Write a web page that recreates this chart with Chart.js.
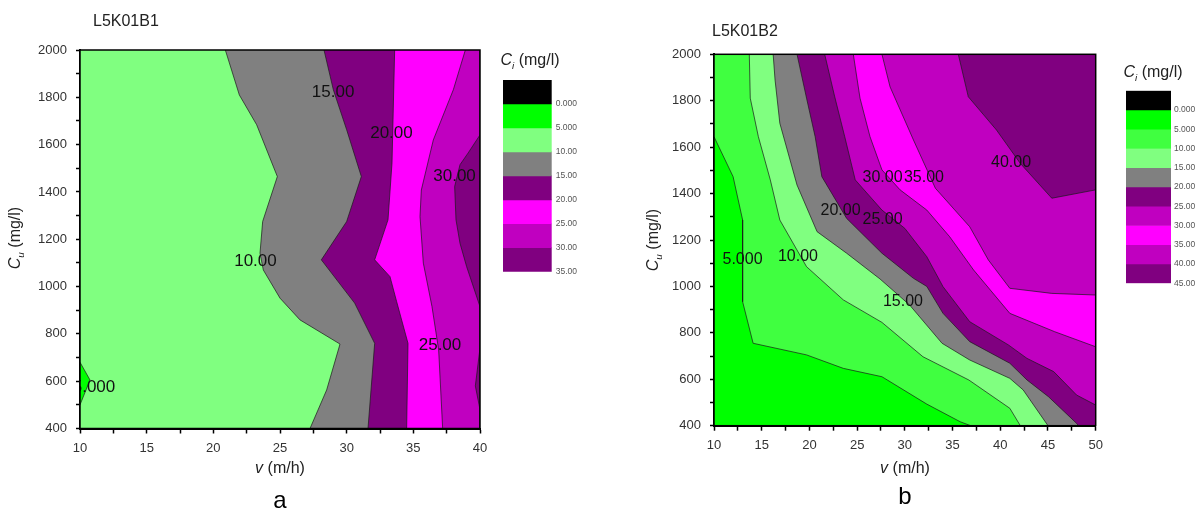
<!DOCTYPE html>
<html>
<head>
<meta charset="utf-8">
<script src="https://cdn.jsdelivr.net/npm/chart.js@4.4.0/dist/chart.umd.min.js"></script>
<style>
html, body { margin: 0; padding: 0; background: #fff; }
#wrap { position: relative; width: 1198px; height: 512px; overflow: hidden; }
canvas { position: absolute; top: 0; }
</style>
</head>
<body>
<div id="wrap">
  <canvas id="plotA" width="600" height="512" style="left:0"></canvas>
  <canvas id="barA" width="110" height="512" style="left:490px"></canvas>
  <canvas id="plotB" width="598" height="512" style="left:600px"></canvas>
  <canvas id="barB" width="88" height="512" style="left:1110px"></canvas>
</div>
<script>
// ---- panel a: L5K01B1 ----
const vRangeA = [10, 40];
const cuRange = [400, 2000];
const levelsA = [-5, 0, 5, 10, 15, 20, 25, 30, 35];
const bandColorsA = ['#000000', '#00ff00', '#80ff80', '#808080', '#800080', '#ff00ff', '#c000c0', '#800080'];
// contour lines, points are [v (m/h), Cu (mg/l)]
const a_c5 = [[10, 680], [10.75, 605], [10, 500]];
const a_c10 = [[20.9, 2000], [21.95, 1810], [23.25, 1684], [24.8, 1465], [23.7, 1275], [23.5, 1141], [23.75, 1070], [25.0, 951], [26.5, 859], [29.5, 757], [28.5, 563], [27.25, 400]];
const a_c15 = [[28.3, 2000], [29.0, 1832], [30.0, 1663], [31.1, 1465], [30.0, 1275], [28.1, 1113], [30.6, 930], [32.1, 760], [31.6, 400]];
const a_c20 = [[33.6, 2000], [33.4, 1522], [33.1, 1282], [32.1, 1113], [33.25, 1042], [33.75, 936], [34.6, 760], [34.5, 400]];
const a_c25 = [[38.9, 2000], [38.0, 1832], [36.5, 1620], [35.6, 1408], [35.5, 1296], [35.75, 1099], [36.4, 915], [36.9, 732], [37.2, 400]];
const a_c30 = [[40, 1641], [39.1, 1564], [38.5, 1515], [38.1, 1423], [38.2, 1282], [38.5, 1183], [39.0, 1084], [40, 915]];
const a_c30b = [[40, 740], [39.65, 580], [40, 480]];
const a_labelText = ['5.000', '10.00', '15.00', '20.00', '25.00', '30.00'];
const a_labelAt = [[11.05, 573], [23.16, 1106], [28.98, 1820], [33.36, 1646], [37.0, 753], [38.09, 1465]];

// ---- panel b: L5K01B2 ----
const vRangeB = [10, 50];
const levelsB = [-5, 0, 5, 10, 15, 20, 25, 30, 35, 40, 45];
const bandColorsB = ['#000000', '#00ff00', '#40ff40', '#80ff80', '#808080', '#800080', '#c000c0', '#ff00ff', '#c000c0', '#800080'];
const b_c5 = [[10, 1645], [12.0, 1473], [13.0, 1286], [13.0, 934], [14.1, 755], [19.7, 705], [23.55, 647], [27.6, 611], [32.3, 493], [35.8, 417], [36.9, 400]];
const b_c10 = [[13.7, 2000], [13.8, 1811], [14.65, 1645], [15.9, 1459], [16.9, 1286], [19.7, 1085], [23.55, 942], [27.6, 845], [31.9, 697], [36.7, 597], [41.0, 475], [42.1, 400]];
const b_c15 = [[16.2, 2000], [16.4, 1889], [16.9, 1703], [18.7, 1437], [20.8, 1236], [23.9, 1143], [27.4, 1032], [30.5, 920], [33.9, 755], [36.8, 683], [41.0, 604], [42.4, 554], [45.0, 400]];
const b_c20 = [[18.7, 2000], [19.7, 1811], [20.6, 1645], [21.3, 1473], [23.9, 1293], [27.6, 1143], [30.9, 1035], [32.3, 1000], [34.0, 884], [36.8, 762], [41.0, 669], [42.8, 597], [45.05, 525], [48.0, 410], [48.2, 400]];
const b_c25 = [[21.6, 2000], [22.65, 1817], [23.7, 1645], [24.8, 1459], [27.6, 1329], [30.0, 1250], [32.3, 1128], [34.0, 999], [36.8, 848], [40.85, 748], [42.8, 690], [45.6, 633], [48.0, 532], [50, 489]];
const b_c30 = [[24.6, 2000], [25.3, 1811], [26.35, 1645], [27.6, 1502], [29.5, 1416], [32.3, 1329], [34.7, 1214], [37.2, 1071], [41.0, 884], [45.7, 805], [50, 740]];
const b_c35 = [[27.6, 2000], [28.45, 1860], [30.9, 1631], [33.2, 1423], [36.8, 1257], [38.75, 1114], [41.0, 992], [45.4, 970], [50, 963]];
const b_c40 = [[35.6, 2000], [36.65, 1817], [39.6, 1674], [42.1, 1530], [45.4, 1380], [50, 1416]];
const b_labelText = ['5.000', '10.00', '20.00', '25.00', '30.00', '35.00', '15.00', '40.00'];
const b_labelAt = [[12.99, 1114], [18.8, 1128], [23.26, 1326], [27.66, 1286], [27.66, 1470], [32.0, 1470], [29.8, 934], [41.13, 1533]];

Chart.defaults.font.family = "'Liberation Sans', Arial, sans-serif";
Chart.defaults.color = '#333';

const FONT = "'Liberation Sans', Arial, sans-serif";

// one filled contour region (painted bottom to top)
function region(line, closure, color, i, stroke) {
    return {
        data: line.concat(closure).map(p => ({ x: p[0], y: p[1] })),
        backgroundColor: color,
        borderColor: '#1a1a1a',
        borderWidth: stroke ? 0.7 : 0,
        fill: 'shape',
        pointRadius: 0,
        tension: 0,
        order: -i
    };
}

// mixed italic / subscript text
function richText(ctx, parts, x, y, size) {
    let w = 0;
    const m = parts.map(p => {
        const s = p.sub ? size * 0.62 : size;
        const f = (p.it ? 'italic ' : '') + s + 'px ' + FONT;
        ctx.font = f;
        const pw = ctx.measureText(p.t).width;
        w += pw;
        return { f, pw, dy: p.sub ? size * 0.35 : 0 };
    });
    let cx = x - w / 2;
    ctx.textAlign = 'left';
    ctx.textBaseline = 'middle';
    parts.forEach((p, i) => {
        ctx.font = m[i].f;
        ctx.fillText(p.t, cx, y + m[i].dy);
        cx += m[i].pw;
    });
}

function makeDecor(cfg) {
    return {
        id: 'decor',
        afterDatasetsDraw(chart) {
            const ctx = chart.ctx, a = chart.chartArea;
            const xs = chart.scales.x, ys = chart.scales.y;
            ctx.save();
            ctx.beginPath();
            ctx.rect(a.left, a.top, a.right - a.left, a.bottom - a.top);
            ctx.clip();
            ctx.fillStyle = '#111';
            ctx.font = cfg.labelSize + 'px ' + FONT;
            ctx.textAlign = 'center';
            ctx.textBaseline = 'middle';
            cfg.labelText.forEach((t, i) => {
                ctx.fillText(t, xs.getPixelForValue(cfg.labelAt[i][0]), ys.getPixelForValue(cfg.labelAt[i][1]));
            });
            ctx.restore();
            ctx.save();
            ctx.strokeStyle = '#000';
            ctx.lineWidth = 1.5;
            ctx.strokeRect(a.left, a.top, a.right - a.left, a.bottom - a.top);
            ctx.restore();
        },
        afterDraw(chart) {
            const ctx = chart.ctx;
            ctx.save();
            ctx.fillStyle = '#222';
            ctx.font = '16px ' + FONT;
            ctx.textAlign = 'left';
            ctx.textBaseline = 'middle';
            ctx.fillText(cfg.title, cfg.titleX, cfg.titleY);
            richText(ctx, [{ t: 'v', it: true }, { t: ' (m/h)' }], cfg.xTitle[0], cfg.xTitle[1], 16);
            ctx.fillStyle = '#000';
            ctx.font = '24px ' + FONT;
            ctx.textAlign = 'center';
            ctx.fillText(cfg.letter, cfg.letterAt[0], cfg.letterAt[1]);
            ctx.fillStyle = '#222';
            ctx.translate(cfg.yTitle[0], cfg.yTitle[1]);
            ctx.rotate(-Math.PI / 2);
            richText(ctx, [{ t: 'C', it: true }, { t: 'u', it: true, sub: true }, { t: ' (mg/l)' }], 0, 0, 16);
            ctx.restore();
        }
    };
}

function contourChart(id, vRange, datasets, yWidth, pad, decor) {
    return new Chart(document.getElementById(id), {
        type: 'line',
        data: { datasets: datasets },
        options: {
            responsive: false,
            animation: false,
            layout: { padding: pad },
            plugins: { legend: { display: false }, tooltip: { enabled: false } },
            scales: {
                x: {
                    type: 'linear', min: vRange[0], max: vRange[1],
                    ticks: { stepSize: 2.5, autoSkip: false, maxRotation: 0, padding: 7, color: '#333', font: { size: 13 },
                        callback: v => (v % 5 === 0 ? v : '') },
                    grid: { drawOnChartArea: false, tickLength: 5, tickColor: '#000', tickWidth: 1.5 },
                    border: { color: '#000', width: 2 },
                    afterFit: s => { s.height = 40; }
                },
                y: {
                    type: 'linear', min: cuRange[0], max: cuRange[1],
                    ticks: { stepSize: 100, autoSkip: false, padding: 9, color: '#333', font: { size: 13 },
                        callback: v => (v % 200 === 0 ? v : '') },
                    grid: { drawOnChartArea: false, tickLength: 4, tickColor: '#000', tickWidth: 1.5 },
                    border: { color: '#000', width: 2 },
                    afterFit: s => { s.width = yWidth; }
                }
            }
        },
        plugins: [decor]
    });
}

function colorBar(id, levels, colors, yWidth, pad, labelPad, titleAt) {
    return new Chart(document.getElementById(id), {
        type: 'bar',
        data: {
            labels: [''],
            datasets: colors.map((c, i) => ({
                data: [[levels[i], levels[i + 1]]],
                backgroundColor: c,
                borderWidth: 0,
                grouped: false,
                barPercentage: 1,
                categoryPercentage: 1
            }))
        },
        options: {
            responsive: false,
            animation: false,
            layout: { padding: pad },
            plugins: { legend: { display: false }, tooltip: { enabled: false } },
            scales: {
                x: { display: false },
                y: {
                    position: 'right', reverse: true,
                    min: levels[0], max: levels[levels.length - 1],
                    ticks: { stepSize: 5, autoSkip: false, padding: labelPad, color: '#555', font: { size: 8.5 },
                        callback: v => (v < 0 ? '' : v.toPrecision(4)) },
                    grid: { display: false, drawTicks: false },
                    border: { display: false },
                    afterFit: s => { s.width = yWidth; }
                }
            }
        },
        plugins: [{
            id: 'barTitle',
            afterDraw(chart) {
                const ctx = chart.ctx;
                ctx.save();
                ctx.fillStyle = '#222';
                richText(ctx, [{ t: 'C', it: true }, { t: 'i', it: true, sub: true }, { t: ' (mg/l)' }], titleAt[0], titleAt[1], 16);
                ctx.restore();
            }
        }]
    });
}

// panel a regions
const edgeA = [[vRangeA[1], cuRange[0]], [vRangeA[1], cuRange[1]]];
const fullA = [[vRangeA[0], cuRange[0]], [vRangeA[1], cuRange[0]], [vRangeA[1], cuRange[1]], [vRangeA[0], cuRange[1]]];
const regionsA = [
    region(fullA, [], bandColorsA[2], 0, false),
    region(a_c5, [], bandColorsA[1], 1, true),
    region(a_c10, edgeA, bandColorsA[3], 2, true),
    region(a_c15, edgeA, bandColorsA[4], 3, true),
    region(a_c20, edgeA, bandColorsA[5], 4, true),
    region(a_c25, edgeA, bandColorsA[6], 5, true),
    region(a_c30, edgeA, bandColorsA[7], 6, true),
    region(a_c30b, edgeA, bandColorsA[7], 7, true)
];

// panel b regions
const edgeB = [[vRangeB[1], cuRange[0]], [vRangeB[1], cuRange[1]], [vRangeB[0], cuRange[1]]];
const fullB = [[vRangeB[0], cuRange[0]], [vRangeB[1], cuRange[0]], [vRangeB[1], cuRange[1]], [vRangeB[0], cuRange[1]]];
const linesB = [b_c5, b_c10, b_c15, b_c20, b_c25, b_c30, b_c35, b_c40];
const regionsB = [region(fullB, [], bandColorsB[1], 0, false)]
    .concat(linesB.map((l, i) => region(l, edgeB, bandColorsB[i + 2], i + 1, true)));

contourChart('plotA', vRangeA, regionsA, 80, { left: 0, top: 50, right: 120, bottom: 43.5 }, makeDecor({
    labelText: a_labelText, labelAt: a_labelAt, labelSize: 17,
    title: 'L5K01B1', titleX: 93, titleY: 22,
    xTitle: [280, 469], yTitle: [16, 238], letter: 'a', letterAt: [280, 501]
}));
colorBar('barA', levelsA, bandColorsA, 48.3, { left: 13, top: 80, right: 0, bottom: 240.3 }, 4, [40, 61]);

contourChart('plotB', vRangeB, regionsB, 114, { left: 0, top: 54.3, right: 102.3, bottom: 46.3 }, makeDecor({
    labelText: b_labelText, labelAt: b_labelAt, labelSize: 16,
    title: 'L5K01B2', titleX: 112, titleY: 32,
    xTitle: [305, 469], yTitle: [54, 240], letter: 'b', letterAt: [305, 497]
}));
colorBar('barB', levelsB, bandColorsB, 27, { left: 16, top: 90.7, right: 0, bottom: 228.7 }, 3, [43, 73]);
</script>
</body>
</html>
